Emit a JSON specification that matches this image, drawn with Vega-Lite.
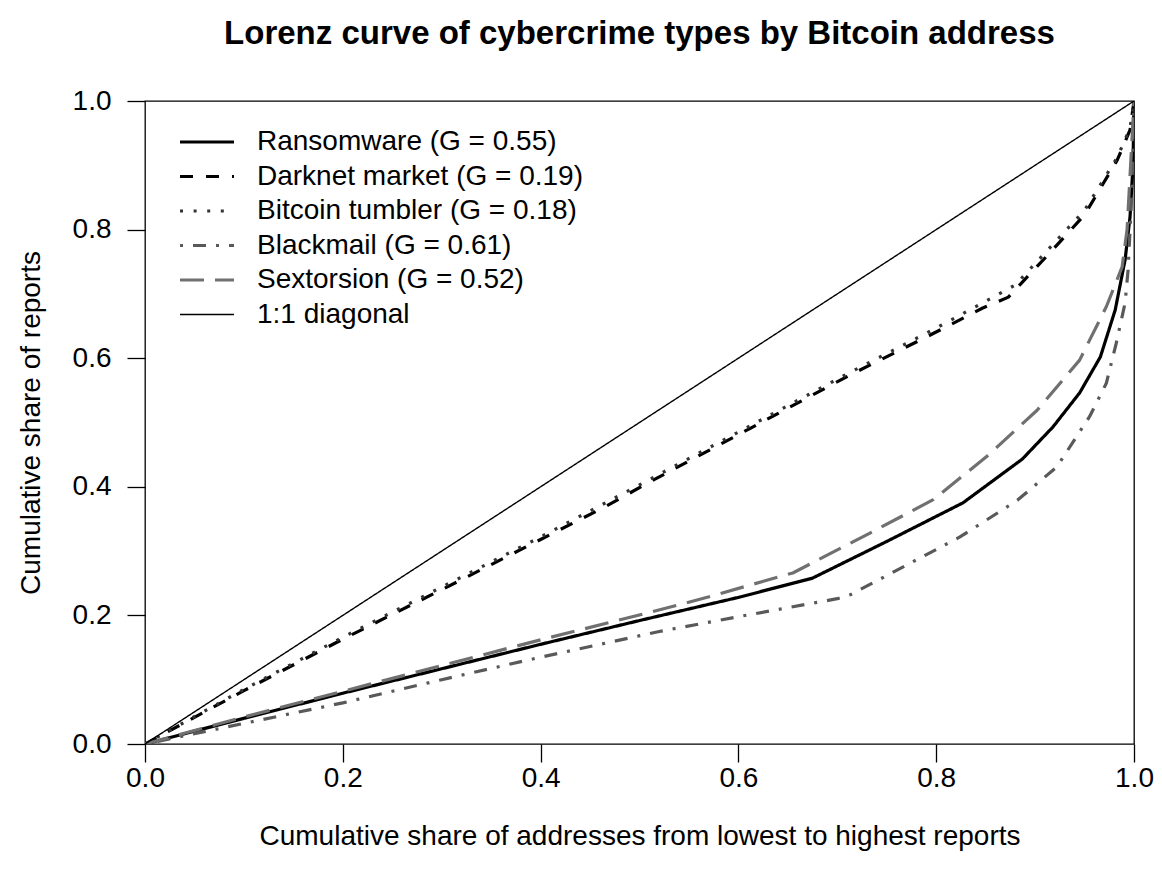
{
  "$schema": "https://vega.github.io/schema/vega-lite/v6.json",
  "width": 989,
  "height": 643,
  "autosize": {"type": "none"},
  "padding": {"left": 145, "top": 101, "right": 28, "bottom": 136},
  "background": "white",
  "title": {
    "text": "Lorenz curve of cybercrime types by Bitcoin address",
    "font": "Liberation Sans",
    "fontSize": 33,
    "fontWeight": "bold",
    "color": "black",
    "anchor": "middle",
    "offset": 36
  },
  "config": {
    "font": "Liberation Sans",
    "view": {"stroke": "black", "strokeWidth": 1.3},
    "axis": {
      "domain": false,
      "grid": false,
      "ticks": true,
      "tickColor": "black",
      "tickWidth": 1.3,
      "tickSize": 18,
      "labelFont": "Liberation Sans",
      "labelFontSize": 28,
      "labelColor": "black",
      "titleFont": "Liberation Sans",
      "titleFontSize": 28,
      "titleFontWeight": "normal",
      "titleColor": "black"
    },
    "legend": {
      "labelFont": "Liberation Sans",
      "labelFontSize": 28,
      "labelColor": "black",
      "labelLimit": 800
    }
  },
  "data": {
    "values": [
      {"series": "Ransomware (G = 0.55)", "x": 0, "y": 0},
      {"series": "Ransomware (G = 0.55)", "x": 0.1, "y": 0.04},
      {"series": "Ransomware (G = 0.55)", "x": 0.2, "y": 0.079},
      {"series": "Ransomware (G = 0.55)", "x": 0.3, "y": 0.117},
      {"series": "Ransomware (G = 0.55)", "x": 0.4, "y": 0.155},
      {"series": "Ransomware (G = 0.55)", "x": 0.5, "y": 0.192},
      {"series": "Ransomware (G = 0.55)", "x": 0.6, "y": 0.228},
      {"series": "Ransomware (G = 0.55)", "x": 0.675, "y": 0.258},
      {"series": "Ransomware (G = 0.55)", "x": 0.75, "y": 0.315},
      {"series": "Ransomware (G = 0.55)", "x": 0.827, "y": 0.375},
      {"series": "Ransomware (G = 0.55)", "x": 0.887, "y": 0.443},
      {"series": "Ransomware (G = 0.55)", "x": 0.918, "y": 0.493},
      {"series": "Ransomware (G = 0.55)", "x": 0.945, "y": 0.546},
      {"series": "Ransomware (G = 0.55)", "x": 0.966, "y": 0.602},
      {"series": "Ransomware (G = 0.55)", "x": 0.981, "y": 0.675},
      {"series": "Ransomware (G = 0.55)", "x": 0.991, "y": 0.753},
      {"series": "Ransomware (G = 0.55)", "x": 0.996, "y": 0.82},
      {"series": "Ransomware (G = 0.55)", "x": 0.999, "y": 0.9},
      {"series": "Ransomware (G = 0.55)", "x": 1, "y": 1},

      {"series": "Darknet market (G = 0.19)", "x": 0, "y": 0},
      {"series": "Darknet market (G = 0.19)", "x": 0.1, "y": 0.083},
      {"series": "Darknet market (G = 0.19)", "x": 0.2, "y": 0.163},
      {"series": "Darknet market (G = 0.19)", "x": 0.3, "y": 0.24},
      {"series": "Darknet market (G = 0.19)", "x": 0.4, "y": 0.318},
      {"series": "Darknet market (G = 0.19)", "x": 0.464, "y": 0.368},
      {"series": "Darknet market (G = 0.19)", "x": 0.511, "y": 0.408},
      {"series": "Darknet market (G = 0.19)", "x": 0.612, "y": 0.491},
      {"series": "Darknet market (G = 0.19)", "x": 0.713, "y": 0.574},
      {"series": "Darknet market (G = 0.19)", "x": 0.794, "y": 0.636},
      {"series": "Darknet market (G = 0.19)", "x": 0.847, "y": 0.678},
      {"series": "Darknet market (G = 0.19)", "x": 0.873, "y": 0.695},
      {"series": "Darknet market (G = 0.19)", "x": 0.915, "y": 0.764},
      {"series": "Darknet market (G = 0.19)", "x": 0.95, "y": 0.823},
      {"series": "Darknet market (G = 0.19)", "x": 0.983, "y": 0.908},
      {"series": "Darknet market (G = 0.19)", "x": 0.996, "y": 0.955},
      {"series": "Darknet market (G = 0.19)", "x": 1, "y": 1},

      {"series": "Bitcoin tumbler (G = 0.18)", "x": 0, "y": 0},
      {"series": "Bitcoin tumbler (G = 0.18)", "x": 0.1, "y": 0.085},
      {"series": "Bitcoin tumbler (G = 0.18)", "x": 0.2, "y": 0.166},
      {"series": "Bitcoin tumbler (G = 0.18)", "x": 0.3, "y": 0.244},
      {"series": "Bitcoin tumbler (G = 0.18)", "x": 0.4, "y": 0.322},
      {"series": "Bitcoin tumbler (G = 0.18)", "x": 0.5, "y": 0.403},
      {"series": "Bitcoin tumbler (G = 0.18)", "x": 0.612, "y": 0.495},
      {"series": "Bitcoin tumbler (G = 0.18)", "x": 0.713, "y": 0.578},
      {"series": "Bitcoin tumbler (G = 0.18)", "x": 0.794, "y": 0.642},
      {"series": "Bitcoin tumbler (G = 0.18)", "x": 0.847, "y": 0.686},
      {"series": "Bitcoin tumbler (G = 0.18)", "x": 0.88, "y": 0.714},
      {"series": "Bitcoin tumbler (G = 0.18)", "x": 0.915, "y": 0.772},
      {"series": "Bitcoin tumbler (G = 0.18)", "x": 0.95, "y": 0.83},
      {"series": "Bitcoin tumbler (G = 0.18)", "x": 0.983, "y": 0.912},
      {"series": "Bitcoin tumbler (G = 0.18)", "x": 0.996, "y": 0.958},
      {"series": "Bitcoin tumbler (G = 0.18)", "x": 1, "y": 1},

      {"series": "Blackmail (G = 0.61)", "x": 0, "y": 0},
      {"series": "Blackmail (G = 0.61)", "x": 0.1, "y": 0.032},
      {"series": "Blackmail (G = 0.61)", "x": 0.2, "y": 0.064},
      {"series": "Blackmail (G = 0.61)", "x": 0.3, "y": 0.1},
      {"series": "Blackmail (G = 0.61)", "x": 0.4, "y": 0.135},
      {"series": "Blackmail (G = 0.61)", "x": 0.52, "y": 0.175},
      {"series": "Blackmail (G = 0.61)", "x": 0.6, "y": 0.198},
      {"series": "Blackmail (G = 0.61)", "x": 0.7, "y": 0.226},
      {"series": "Blackmail (G = 0.61)", "x": 0.713, "y": 0.232},
      {"series": "Blackmail (G = 0.61)", "x": 0.824, "y": 0.322},
      {"series": "Blackmail (G = 0.61)", "x": 0.882, "y": 0.379},
      {"series": "Blackmail (G = 0.61)", "x": 0.922, "y": 0.431},
      {"series": "Blackmail (G = 0.61)", "x": 0.955, "y": 0.509},
      {"series": "Blackmail (G = 0.61)", "x": 0.972, "y": 0.561},
      {"series": "Blackmail (G = 0.61)", "x": 0.982, "y": 0.623},
      {"series": "Blackmail (G = 0.61)", "x": 0.991, "y": 0.686},
      {"series": "Blackmail (G = 0.61)", "x": 0.994, "y": 0.737},
      {"series": "Blackmail (G = 0.61)", "x": 0.997, "y": 0.83},
      {"series": "Blackmail (G = 0.61)", "x": 0.999, "y": 0.92},
      {"series": "Blackmail (G = 0.61)", "x": 1, "y": 1},

      {"series": "Sextorsion (G = 0.52)", "x": 0, "y": 0},
      {"series": "Sextorsion (G = 0.52)", "x": 0.1, "y": 0.042},
      {"series": "Sextorsion (G = 0.52)", "x": 0.2, "y": 0.082},
      {"series": "Sextorsion (G = 0.52)", "x": 0.3, "y": 0.122},
      {"series": "Sextorsion (G = 0.52)", "x": 0.4, "y": 0.162},
      {"series": "Sextorsion (G = 0.52)", "x": 0.511, "y": 0.205},
      {"series": "Sextorsion (G = 0.52)", "x": 0.561, "y": 0.225},
      {"series": "Sextorsion (G = 0.52)", "x": 0.655, "y": 0.266},
      {"series": "Sextorsion (G = 0.52)", "x": 0.733, "y": 0.328},
      {"series": "Sextorsion (G = 0.52)", "x": 0.797, "y": 0.38},
      {"series": "Sextorsion (G = 0.52)", "x": 0.851, "y": 0.447},
      {"series": "Sextorsion (G = 0.52)", "x": 0.902, "y": 0.519},
      {"series": "Sextorsion (G = 0.52)", "x": 0.945, "y": 0.597},
      {"series": "Sextorsion (G = 0.52)", "x": 0.972, "y": 0.68},
      {"series": "Sextorsion (G = 0.52)", "x": 0.988, "y": 0.742},
      {"series": "Sextorsion (G = 0.52)", "x": 0.993, "y": 0.8},
      {"series": "Sextorsion (G = 0.52)", "x": 0.998, "y": 0.94},
      {"series": "Sextorsion (G = 0.52)", "x": 1, "y": 1},

      {"series": "1:1 diagonal", "x": 0, "y": 0},
      {"series": "1:1 diagonal", "x": 1, "y": 1}
    ]
  },
  "mark": {"type": "line", "strokeCap": "butt", "strokeJoin": "round", "clip": true},
  "encoding": {
    "x": {
      "field": "x",
      "type": "quantitative",
      "title": "Cumulative share of addresses from lowest to highest reports",
      "scale": {"domain": [0, 1], "nice": false},
      "axis": {
        "values": [0, 0.2, 0.4, 0.6, 0.8, 1],
        "format": ".1f",
        "labelFlush": false,
        "labelPadding": 2,
        "titlePadding": 30
      }
    },
    "y": {
      "field": "y",
      "type": "quantitative",
      "title": "Cumulative share of reports",
      "scale": {"domain": [0, 1], "nice": false},
      "axis": {
        "values": [0, 0.2, 0.4, 0.6, 0.8, 1],
        "format": ".1f",
        "labelFlush": false,
        "labelPadding": 16,
        "titlePadding": 27
      }
    },
    "order": {"field": "x", "type": "quantitative"},
    "color": {
      "field": "series",
      "type": "nominal",
      "sort": null,
      "scale": {
        "domain": ["Ransomware (G = 0.55)", "Darknet market (G = 0.19)", "Bitcoin tumbler (G = 0.18)", "Blackmail (G = 0.61)", "Sextorsion (G = 0.52)", "1:1 diagonal"],
        "range": ["#000000", "#000000", "#333333", "#595959", "#707070", "#000000"]
      },
      "legend": {
        "title": null,
        "orient": "none",
        "legendX": 33,
        "legendY": 27,
        "symbolType": "stroke",
        "symbolSize": 2916,
        "labelOffset": 21,
        "rowPadding": 6.5,
        "clipHeight": 28,
        "padding": 0
      }
    },
    "strokeDash": {
      "field": "series",
      "type": "nominal",
      "sort": null,
      "scale": {
        "domain": ["Ransomware (G = 0.55)", "Darknet market (G = 0.19)", "Bitcoin tumbler (G = 0.18)", "Blackmail (G = 0.61)", "Sextorsion (G = 0.52)", "1:1 diagonal"],
        "range": [[1, 0], [13, 13], [3, 10.6], [3, 10, 13, 10], [24, 11], [1, 0]]
      }
    },
    "strokeWidth": {
      "field": "series",
      "type": "nominal",
      "sort": null,
      "scale": {
        "type": "ordinal",
        "domain": ["Ransomware (G = 0.55)", "Darknet market (G = 0.19)", "Bitcoin tumbler (G = 0.18)", "Blackmail (G = 0.61)", "Sextorsion (G = 0.52)", "1:1 diagonal"],
        "range": [3.2, 3.2, 3.2, 3.2, 3.2, 1.4]
      }
    }
  }
}
